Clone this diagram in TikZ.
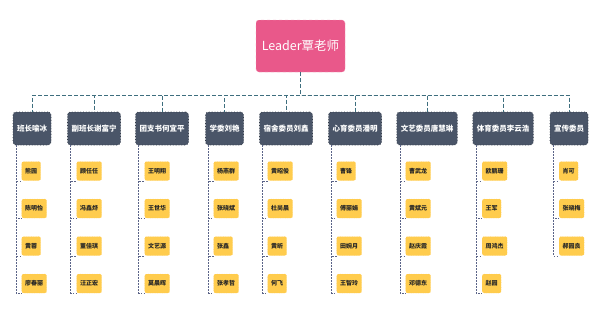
\documentclass[tikz,border=0pt]{standalone}
\usepackage{fontspec}
\setmainfont{Noto Sans CJK SC}
\definecolor{rootpink}{HTML}{E9588A}
\definecolor{headgray}{HTML}{4A5568}
\definecolor{kidyellow}{HTML}{FFCC4D}
\definecolor{linkteal}{HTML}{3E6E7E}
\definecolor{kidline}{HTML}{5B6488}

\begin{document}
\begin{tikzpicture}[x=1pt,y=-1pt,
  root/.style={draw=rootpink!60, dashed, fill=rootpink, rounded corners=3pt, text=white,
    minimum width=89pt, minimum height=52pt, font=\fontsize{12.5}{14}\selectfont},
  head/.style={draw=headgray!70!black, dotted, thick, fill=headgray, rounded corners=3pt, text=white,
    inner xsep=4pt, minimum height=33pt, font=\fontsize{7.5}{9}\selectfont\bfseries},
  kid/.style={draw=kidyellow!85!orange, dotted, fill=kidyellow, rounded corners=2pt, text=black!85,
    inner xsep=3.5pt, minimum height=19pt, anchor=west, font=\fontsize{6}{7}\selectfont\bfseries},
  link/.style={draw=linkteal, dashed, thin, dash pattern=on 4pt off 2pt},
  kidlink/.style={draw=kidline, thin, dash pattern=on 1.5pt off 1.5pt}]
\useasboundingbox (0,0) rectangle (600,314);

\node[root] (lead) at (300.5,46) {Leader覃老师};

\node[head] (h1) at (32,128.5) {班长喻冰};
\node[head] (h2) at (94,128.5) {副班长谢富宁};
\node[head] (h3) at (162,128.5) {团支书何宜平};
\node[head] (h4) at (224.5,128.5) {学委刘艳};
\node[head] (h5) at (286,128.5) {宿舍委员刘鑫};
\node[head] (h6) at (355,128.5) {心育委员潘明};
\node[head] (h7) at (427,128.5) {文艺委员唐慧琳};
\node[head] (h8) at (503,128.5) {体育委员李云浩};
\node[head] (h9) at (569,128.5) {宣传委员};

\draw[link] (lead.south) -- ++(0,23) -| (h1.north);
\draw[link] (lead.south) -- ++(0,23) -| (h2.north);
\draw[link] (lead.south) -- ++(0,23) -| (h3.north);
\draw[link] (lead.south) -- ++(0,23) -| (h4.north);
\draw[link] (lead.south) -- ++(0,23) -| (h5.north);
\draw[link] (lead.south) -- ++(0,23) -| (h6.north);
\draw[link] (lead.south) -- ++(0,23) -| (h7.north);
\draw[link] (lead.south) -- ++(0,23) -| (h8.north);
\draw[link] (lead.south) -- ++(0,23) -| (h9.north);

% members
\node[kid] (k11) at (21.5,171) {熊园};
\node[kid] (k12) at (21.5,208.5) {陈明怡};
\node[kid] (k13) at (21.5,246) {黄蓉};
\node[kid] (k14) at (21.5,283.5) {廖春丽};

\node[kid] (k21) at (76.5,171) {顾任任};
\node[kid] (k22) at (76.5,208.5) {冯鑫烨};
\node[kid] (k23) at (76.5,246) {董佳琪};
\node[kid] (k24) at (76.5,283.5) {汪正宏};

\node[kid] (k31) at (144.5,171) {王明翔};
\node[kid] (k32) at (144.5,208.5) {王世华};
\node[kid] (k33) at (144.5,246) {文艺源};
\node[kid] (k34) at (144.5,283.5) {莫晨晖};

\node[kid] (k41) at (213.5,171) {杨燕群};
\node[kid] (k42) at (213.5,208.5) {张晓斌};
\node[kid] (k43) at (213.5,246) {张鑫};
\node[kid] (k44) at (213.5,283.5) {张孝哲};

\node[kid] (k51) at (267.5,171) {黄昭俊};
\node[kid] (k52) at (267.5,208.5) {杜尚晨};
\node[kid] (k53) at (267.5,246) {黄昕};
\node[kid] (k54) at (267.5,283.5) {何飞};

\node[kid] (k61) at (336.5,171) {曹锋};
\node[kid] (k62) at (336.5,208.5) {傅丽娟};
\node[kid] (k63) at (336.5,246) {田婉月};
\node[kid] (k64) at (336.5,283.5) {王智玲};

\node[kid] (k71) at (405.5,171) {曹武龙};
\node[kid] (k72) at (405.5,208.5) {黄斌元};
\node[kid] (k73) at (405.5,246) {赵庆霞};
\node[kid] (k74) at (405.5,283.5) {邓德东};

\node[kid] (k81) at (482,171) {欧鹏珊};
\node[kid] (k82) at (482,208.5) {王军};
\node[kid] (k83) at (482,246) {周鸿杰};
\node[kid] (k84) at (482,283.5) {赵园};

\node[kid] (k91) at (559,171) {肖可};
\node[kid] (k92) at (559,208.5) {张晓梅};
\node[kid] (k93) at (559,246) {郝园良};

\draw[kidlink] ([xshift=3.5pt]h1.south west) |- (k11.south west);
\draw[kidlink] ([xshift=3.5pt]h1.south west) |- (k12.south west);
\draw[kidlink] ([xshift=3.5pt]h1.south west) |- (k13.south west);
\draw[kidlink] ([xshift=3.5pt]h1.south west) |- (k14.south west);
\draw[kidlink] ([xshift=3.5pt]h2.south west) |- (k21.south west);
\draw[kidlink] ([xshift=3.5pt]h2.south west) |- (k22.south west);
\draw[kidlink] ([xshift=3.5pt]h2.south west) |- (k23.south west);
\draw[kidlink] ([xshift=3.5pt]h2.south west) |- (k24.south west);
\draw[kidlink] ([xshift=3.5pt]h3.south west) |- (k31.south west);
\draw[kidlink] ([xshift=3.5pt]h3.south west) |- (k32.south west);
\draw[kidlink] ([xshift=3.5pt]h3.south west) |- (k33.south west);
\draw[kidlink] ([xshift=3.5pt]h3.south west) |- (k34.south west);
\draw[kidlink] ([xshift=3.5pt]h4.south west) |- (k41.south west);
\draw[kidlink] ([xshift=3.5pt]h4.south west) |- (k42.south west);
\draw[kidlink] ([xshift=3.5pt]h4.south west) |- (k43.south west);
\draw[kidlink] ([xshift=3.5pt]h4.south west) |- (k44.south west);
\draw[kidlink] ([xshift=3.5pt]h5.south west) |- (k51.south west);
\draw[kidlink] ([xshift=3.5pt]h5.south west) |- (k52.south west);
\draw[kidlink] ([xshift=3.5pt]h5.south west) |- (k53.south west);
\draw[kidlink] ([xshift=3.5pt]h5.south west) |- (k54.south west);
\draw[kidlink] ([xshift=3.5pt]h6.south west) |- (k61.south west);
\draw[kidlink] ([xshift=3.5pt]h6.south west) |- (k62.south west);
\draw[kidlink] ([xshift=3.5pt]h6.south west) |- (k63.south west);
\draw[kidlink] ([xshift=3.5pt]h6.south west) |- (k64.south west);
\draw[kidlink] ([xshift=3.5pt]h7.south west) |- (k71.south west);
\draw[kidlink] ([xshift=3.5pt]h7.south west) |- (k72.south west);
\draw[kidlink] ([xshift=3.5pt]h7.south west) |- (k73.south west);
\draw[kidlink] ([xshift=3.5pt]h7.south west) |- (k74.south west);
\draw[kidlink] ([xshift=3.5pt]h8.south west) |- (k81.south west);
\draw[kidlink] ([xshift=3.5pt]h8.south west) |- (k82.south west);
\draw[kidlink] ([xshift=3.5pt]h8.south west) |- (k83.south west);
\draw[kidlink] ([xshift=3.5pt]h8.south west) |- (k84.south west);
\draw[kidlink] ([xshift=3.5pt]h9.south west) |- (k91.south west);
\draw[kidlink] ([xshift=3.5pt]h9.south west) |- (k92.south west);
\draw[kidlink] ([xshift=3.5pt]h9.south west) |- (k93.south west);
\end{tikzpicture}
\end{document}
